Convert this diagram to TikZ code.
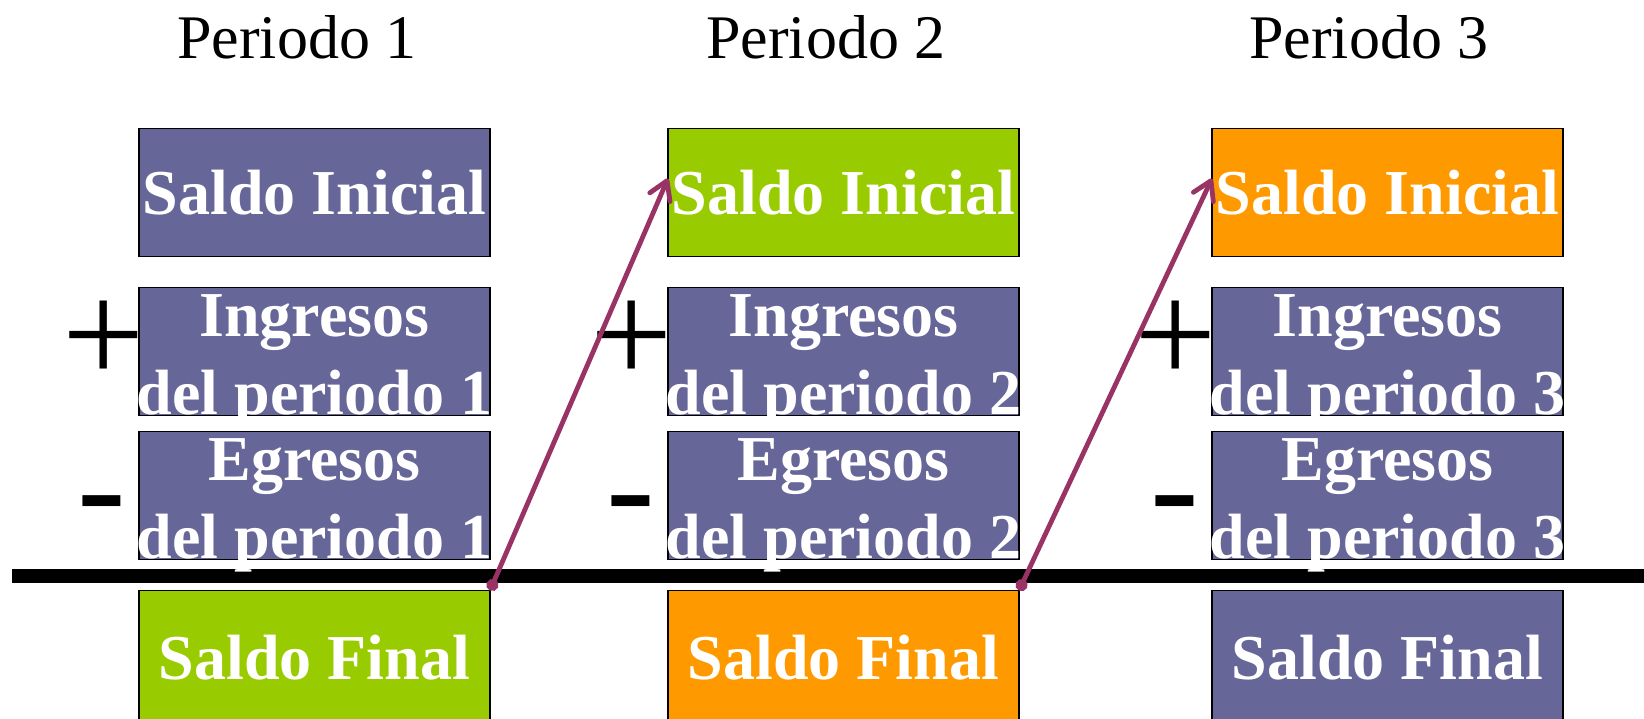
\documentclass[tikz,border=0pt]{standalone}
\usepackage{fontspec}
\setmainfont{Liberation Serif}
\usetikzlibrary{positioning, arrows.meta}
\definecolor{lila}{HTML}{666699}
\definecolor{verde}{HTML}{99CC00}
\definecolor{naranja}{HTML}{FF9900}
\definecolor{vino}{HTML}{993366}
\tikzstyle{cell}=[draw=black, line width=0.75pt, minimum width=175.5pt,
		minimum height=64pt, inner sep=0pt, outer sep=0pt, text=white,
		font=\fontsize{32}{39}\selectfont\bfseries]
\tikzstyle{celltext}=[text=white, align=center, inner sep=0pt,
		font=\fontsize{32}{39}\selectfont\bfseries]
\tikzstyle{titulo}=[font=\fontsize{31}{31}\selectfont, anchor=base, inner sep=0pt]
\tikzstyle{signo}=[font=\fontsize{73}{73}\selectfont, anchor=base, inner sep=0pt]
\tikzstyle{flecha}=[draw=vino, line width=2.4pt, line cap=round,
		{Circle[length=6pt]}-{Straight Barb[length=9pt, width=11pt, round]}]

\begin{document}
\begin{tikzpicture}[x=0.5pt, y=-0.5pt]
            \useasboundingbox (0,0) rectangle (1644,718);
            % titles
            \node[titulo] (p1) at (297,58) {Periodo 1};
            \node[titulo] (p2) at (826,58) {Periodo 2};
            \node[titulo] (p3) at (1369,58) {Periodo 3};
            % total rule
            \draw[line width=7pt] (12,576) -- (1650,576);
            % column 1
            \node[cell, fill=lila] (si1) at (314.5,192.5) {Saldo Inicial};
            \node[cell, fill=lila, below=15.5pt of si1] (in1) {};
            \node[cell, fill=lila, below=8pt of in1] (eg1) {};
            \node[cell, fill=verde, minimum height=67pt, below=15.5pt of eg1] (sf1) {Saldo Final};
            \node[celltext, yshift=-5pt] (in1t) at (in1) {Ingresos\\del periodo 1};
            \node[celltext, yshift=-5pt] (eg1t) at (eg1) {Egresos\\del periodo 1};
            % column 2
            \node[cell, fill=verde] (si2) at (843.5,192.5) {Saldo Inicial};
            \node[cell, fill=lila, below=15.5pt of si2] (in2) {};
            \node[cell, fill=lila, below=8pt of in2] (eg2) {};
            \node[cell, fill=naranja, minimum height=67pt, below=15.5pt of eg2] (sf2) {Saldo Final};
            \node[celltext, yshift=-5pt] (in2t) at (in2) {Ingresos\\del periodo 2};
            \node[celltext, yshift=-5pt] (eg2t) at (eg2) {Egresos\\del periodo 2};
            % column 3
            \node[cell, fill=naranja] (si3) at (1387.5,192.5) {Saldo Inicial};
            \node[cell, fill=lila, below=15.5pt of si3] (in3) {};
            \node[cell, fill=lila, below=8pt of in3] (eg3) {};
            \node[cell, fill=lila, minimum height=67pt, below=15.5pt of eg3] (sf3) {Saldo Final};
            \node[celltext, yshift=-5pt] (in3t) at (in3) {Ingresos\\del periodo 3};
            \node[celltext, yshift=-5pt] (eg3t) at (eg3) {Egresos\\del periodo 3};
            % signs
            \node[signo] (mas1) at (104,383) {+};
            \node[signo] (mas2) at (632,383) {+};
            \node[signo] (mas3) at (1176,383) {+};
            \node[signo] (menos1) at (102,535) {-};
            \node[signo] (menos2) at (631,535) {-};
            \node[signo] (menos3) at (1175,535) {-};
            % carry over
            \draw[flecha] (sf1.north east) -- ([yshift=7pt]si2.west);
            \draw[flecha] (sf2.north east) -- ([yshift=7pt]si3.west);
        \end{tikzpicture}
\end{document}
